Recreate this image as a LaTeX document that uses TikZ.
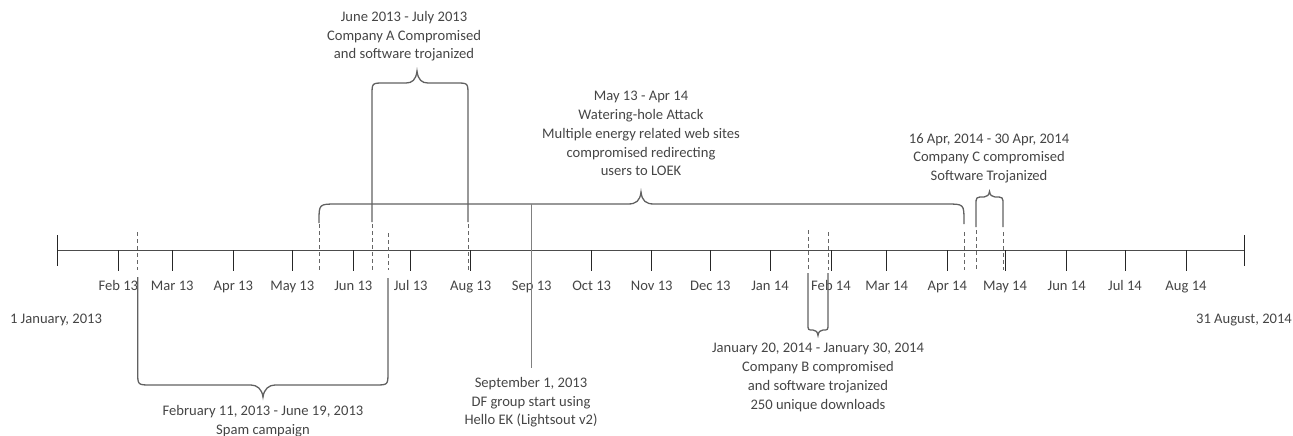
\documentclass[tikz,border=0pt]{standalone}
\usepackage{fontspec}
\setmainfont{Carlito}
\definecolor{txt}{gray}{0.27}
\definecolor{axc}{gray}{0.30}
\definecolor{tkc}{gray}{0.15}
\definecolor{brc}{gray}{0.38}
\definecolor{dsc}{gray}{0.40}
\definecolor{sepc}{gray}{0.50}
\begin{document}
\begin{tikzpicture}[x=1pt,y=-1pt,
  lbl/.style={font=\fontsize{14.6}{18.8}\selectfont, text=txt, align=center, inner sep=0pt},
  axisline/.style={line width=1.0pt, draw=axc},
  tickline/.style={line width=1.0pt, draw=tkc},
  guide/.style={line width=0.8pt, draw=dsc, dash pattern=on 4pt off 3pt},
  bracket/.style={line width=1.3pt, draw=brc},
  pointer/.style={line width=1.0pt, draw=sepc},
]
\useasboundingbox (0,0) rectangle (1293,436);

% axis
\coordinate (A0) at (57,250);
\coordinate (A1) at (1244,250);
\draw[axisline] (A0) -- (A1);
\draw[tickline] (57,235) -- (57,266);
\draw[tickline] (1244,235) -- (1244,266);

% month ticks and labels
\foreach \x/\t [count=\i] in {118.3/Feb 13, 172.3/Mar 13, 233.3/Apr 13, 292.3/May 13, 353.3/Jun 13, 410.7/Jul 13, 470.7/Aug 13, 531.7/Sep 13, 591.7/Oct 13, 651.7/Nov 13, 710.3/Dec 13, 770/Jan 14, 831/Feb 14, 886.7/Mar 14, 947.3/Apr 14, 1005/May 14, 1066.7/Jun 14, 1125/Jul 14, 1186/Aug 14}{
  \draw[tickline] (\x,250) -- (\x,271);
  \node[lbl, anchor=base] (m\i) at (\x,290) {\t};
}

\node[lbl, anchor=base] (start) at (56,323) {1 January, 2013};
\node[lbl, anchor=base] (end) at (1244,323) {31 August, 2014};

% dashed guides
\foreach \x/\ya in {137.7/232, 319/224, 372/224, 388/233, 468/224, 808/230, 828/232, 964/232, 976/230, 1003/232}{
  \draw[guide] (\x,\ya) -- (\x,270);
}

% Watering-hole bracket
\draw[bracket] (319,223) -- (319,221) .. controls (319,204) .. (337,204)
  -- (628,204) .. controls (636,204) and (640,201) .. (641,192)
  .. controls (642,201) and (646,204) .. (654,204)
  -- (946,204) .. controls (964,204) .. (964,221) -- (964,224);
\node[lbl, anchor=north] (wh) at (641,91) {May 13 - Apr 14\\Watering-hole Attack\\Multiple energy related web sites\\compromised redirecting\\users to LOEK};

% Company A bracket
\draw[bracket] (372,222) -- (372,95) .. controls (372,83) .. (384,83)
  -- (406,83) .. controls (412,83) and (416,80) .. (417,71)
  .. controls (418,80) and (422,83) .. (428,83)
  -- (456,83) .. controls (468,83) .. (468,95) -- (468,222);
\node[lbl, anchor=north] (ca) at (404,11) {June 2013 - July 2013\\Company A Compromised\\and software trojanized};

% Company C bracket
\draw[bracket] (976,227) -- (976,205) .. controls (976,197) .. (984,197)
  .. controls (987,197) and (989,195) .. (989.5,191.5)
  .. controls (990,195) and (992,197) .. (995,197)
  .. controls (1003,197) .. (1003,205) -- (1003,227);
\node[lbl, anchor=north] (cc) at (989,133) {16 Apr, 2014 - 30 Apr, 2014\\Company C compromised\\Software Trojanized};

% Spam bracket
\draw[bracket] (137.7,277) -- (137.7,372) .. controls (137.7,385) .. (151,385)
  -- (251,385) .. controls (257,385) and (262,389) .. (263,397)
  .. controls (264,389) and (269,385) .. (275,385)
  -- (375,385) .. controls (388,385) .. (388,372) -- (388,278);
\node[lbl, anchor=north] (spam) at (263,405) {February 11, 2013 - June 19, 2013\\Spam campaign};

% Company B bracket
\draw[bracket] (808,273) -- (808,324) .. controls (808,330) .. (813,330)
  .. controls (816,330) and (817.5,332) .. (818,335.5)
  .. controls (818.5,332) and (820,330) .. (823,330)
  .. controls (828,330) .. (828,324) -- (828,273);
\node[lbl, anchor=north] (cb) at (818,343) {January 20, 2014 - January 30, 2014\\Company B compromised\\and software trojanized\\250 unique downloads};

% September 1 pointer
\coordinate (sepTop) at (531,204);
\coordinate (sepLow) at (531,368);
\node[lbl, anchor=north] (sep) at (531,377) {September 1, 2013\\DF group start using\\Hello EK (Lightsout v2)};
\draw[pointer] (sepTop) -- (sepLow);
\end{tikzpicture}
\end{document}
